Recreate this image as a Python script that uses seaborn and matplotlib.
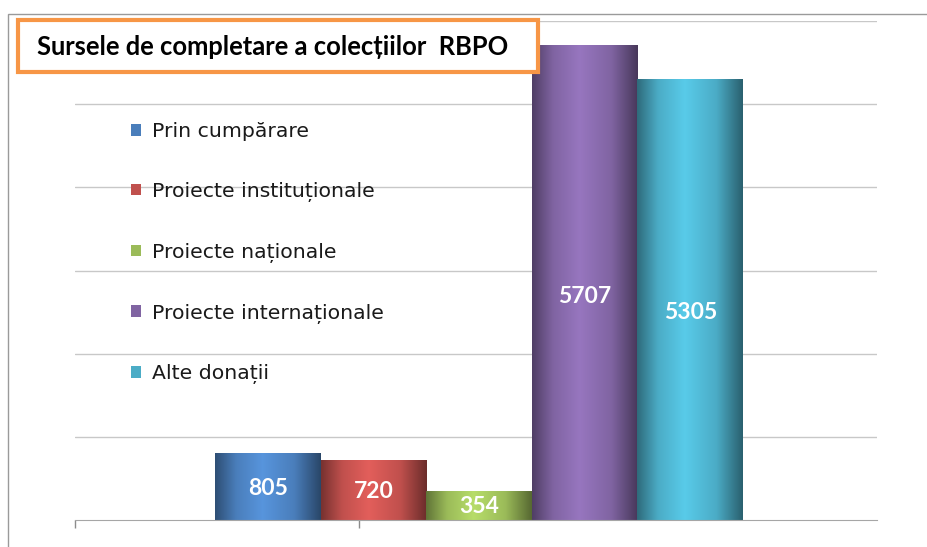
import numpy as np
import pandas as pd
import matplotlib.pyplot as plt
import seaborn as sns
from matplotlib.colors import LinearSegmentedColormap, to_rgb
from matplotlib.patches import Rectangle

# date
surse = ['Prin cumpărare', 'Proiecte instituționale', 'Proiecte naționale',
         'Proiecte internaționale', 'Alte donații']
valori = [805, 720, 354, 5707, 5305]
culori = ['#4A7EBB', '#C0504D', '#9BBB59', '#8064A2', '#4BACC6']
titlu = 'Sursele de completare a colecțiilor  RBPO'

df = pd.DataFrame({'Sursa': surse, 'Valoare': valori})

sns.set_style('white')
plt.rcParams['font.family'] = ['DejaVu Sans']

fig = plt.figure(figsize=(9.27, 5.47), dpi=100)
ax = fig.add_axes([75/927, 1 - 520/547, 802/927, 499/547])

sns.barplot(data=df, x='Sursa', y='Valoare', hue='Sursa', palette=culori,
            width=1.0, saturation=1, legend=True, ax=ax, edgecolor='none')

xmin, xmax = -1.83, 5.77
ax.set_xlim(xmin, xmax)
ax.set_ylim(0, 6000)
ax.set_yticks(range(1000, 7000, 1000))
ax.yaxis.grid(True, color='#c8c8c8', lw=1)
ax.set_axisbelow(True)
ax.tick_params(axis='y', left=False, labelleft=False)
ax.set_xticks([xmin, 0.86])
ax.set_xticklabels(['', ''])
ax.tick_params(axis='x', bottom=True, length=6, color='#8c8c8c', width=1)
ax.set_xlabel('')
ax.set_ylabel('')
for s in ['top', 'right', 'left']:
    ax.spines[s].set_visible(False)
ax.spines['bottom'].set_color('#a6a6a6')

# gradient orizontal pe fiecare bara (efect cilindric)
grad = np.linspace(0, 1, 256)[np.newaxis, :]
for i, c in enumerate(ax.containers):
    base = np.array(to_rgb(culori[i]))
    dark = base * 0.62
    light = np.clip(base * 1.18, 0, 1)
    cm = LinearSegmentedColormap.from_list('g%d' % i,
        [(0, dark), (0.2, base), (0.45, light), (0.75, base), (1, dark * 0.9)])
    for p in c:
        if not np.isfinite(p.get_height()) or p.get_height() <= 0:
            continue
        p.set_zorder(2 + i * 0.1)
        x0, y0, w, h = p.get_x(), p.get_y(), p.get_width(), p.get_height()
        im = ax.imshow(grad, extent=[x0, x0 + w, y0, y0 + h], aspect='auto',
                       cmap=cm, zorder=2.05 + i * 0.1, interpolation='bicubic')
        im.set_clip_path(p)
ax.set_xlim(xmin, xmax)
ax.set_ylim(0, 6000)

# etichete valori (putin sub mijlocul barei, ca in original)
for i, v in enumerate(valori):
    ax.text(i, v * 0.47, str(v), ha='center', va='center', color='white',
            fontweight='bold', fontsize=16.5, family='Lato', zorder=5)

sns.move_legend(ax, 'upper left', bbox_to_anchor=(131/927, 1 - 122/547),
                bbox_transform=fig.transFigure, frameon=False, title=None,
                fontsize=14.7, labelspacing=2.0, handlelength=0.5,
                handleheight=0.5, handletextpad=0.55, borderpad=0,
                borderaxespad=0)
for t in ax.get_legend().get_texts():
    t.set_color('#1a1a1a')

# chenar exterior al graficului
fig.add_artist(Rectangle((8/927, -0.2), 1.2, 1.2 - 14/547, transform=fig.transFigure,
                         fill=False, edgecolor='#9a9a9a', lw=1, zorder=0))

# caseta titlului
fig.add_artist(Rectangle((18/927, 1 - 72/547), 520/927, 52/547, transform=fig.transFigure,
                         facecolor='white', edgecolor='#F79646', lw=3, zorder=9))
fig.text(37/927, 1 - 47/547, titlu, family='Lato', fontweight='bold', fontsize=18.4,
         va='center', ha='left', color='black', zorder=10)

plt.savefig('out.png', dpi=100, facecolor='white')
